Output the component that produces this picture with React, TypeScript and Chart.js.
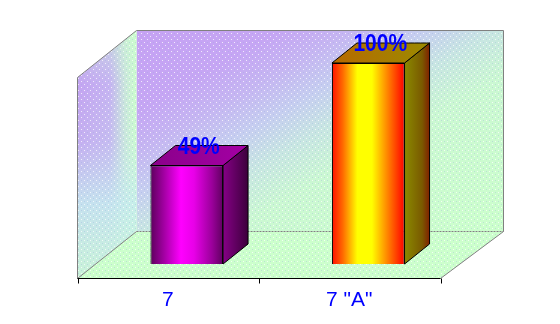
import React, { useEffect, useRef } from 'react';
import { Chart, registerables } from 'chart.js';

Chart.register(...registerables);

// ---- data ----
const categories: string[] = ['7', '7 "A"'];
const values: number[] = [49, 100];
const valueLabels: string[] = ['49%', '100%'];
const yMin = 0;
const yMax = 100;

// ---- geometry / style ----
const BAR_PCT = 0.4;
const BAR_SHIFT = { x: 19, y: -14 }; // bar plane relative to front plane
const BAR_DEPTH = { x: 25, y: -20 };
const WALL = { xl: 59, xr: 63, y: -47 };
const FONT = 'Liberation Sans, Arial, sans-serif';

type Stops = [number, string][];
const frontStops: Stops[] = [
  [[0, '#5c005c'], [0.18, '#a000a0'], [0.42, '#ff00ff'], [0.6, '#e800e8'], [0.85, '#9a009a'], [1, '#600060']],
  [[0, '#ff1000'], [0.15, '#ff6a00'], [0.35, '#ffff00'], [0.55, '#ffff00'], [0.8, '#ff7000'], [1, '#ff0000']],
];
const sideStops: Stops[] = [
  [[0, '#860086'], [1, '#3c003c']],
  [[0, '#8a8a00'], [0.7, '#7a5a00'], [1, '#802000']],
];
const topStops: Stops[] = [
  [[0, '#8a008a'], [1, '#a400a4']],
  [[0, '#b86a00'], [1, '#9a8a00']],
];

function grad(ctx: CanvasRenderingContext2D, x0: number, y0: number, x1: number, y1: number, stops: Stops) {
  const g = ctx.createLinearGradient(x0, y0, x1, y1);
  stops.forEach(([o, c]) => g.addColorStop(o, c));
  return g;
}

function poly(ctx: CanvasRenderingContext2D, pts: number[][]) {
  ctx.beginPath();
  ctx.moveTo(pts[0][0], pts[0][1]);
  for (let i = 1; i < pts.length; i++) ctx.lineTo(pts[i][0], pts[i][1]);
  ctx.closePath();
}

function line(ctx: CanvasRenderingContext2D, x0: number, y0: number, x1: number, y1: number) {
  ctx.beginPath();
  ctx.moveTo(x0, y0);
  ctx.lineTo(x1, y1);
  ctx.stroke();
}

let dotPattern: CanvasPattern | null = null;
function dots(ctx: CanvasRenderingContext2D) {
  if (dotPattern) return dotPattern;
  const c = document.createElement('canvas');
  c.width = 6;
  c.height = 6;
  const p = c.getContext('2d')!;
  p.fillStyle = 'rgba(255,255,255,0.75)';
  p.fillRect(0, 0, 1, 1);
  p.fillRect(3, 3, 1, 1);
  p.fillStyle = 'rgba(150,170,220,0.35)';
  p.fillRect(3, 0, 1, 1);
  p.fillRect(0, 3, 1, 1);
  dotPattern = ctx.createPattern(c, 'repeat');
  return dotPattern;
}

const scenePlugin = {
  id: 'scene3d',
  beforeDatasetsDraw(chart: any) {
    const ctx: CanvasRenderingContext2D = chart.ctx;
    const a = chart.chartArea;
    const fL = Math.round(a.left - BAR_SHIFT.x) + 0.5;
    const fR = Math.round(a.right - BAR_SHIFT.x) + 0.5;
    const fT = Math.round(a.top - BAR_SHIFT.y) + 0.5;
    const fB = Math.round(a.bottom - BAR_SHIFT.y) + 0.5;
    const bL = fL + WALL.xl, bR = fR + WALL.xr, bT = fT + WALL.y, bB = fB + WALL.y;
    ctx.save();
    // back wall: purple in the upper-left, fading to pale green lower-right
    const k = 1.47;
    ctx.fillStyle = grad(ctx, bL, bT, bL + 119 * k, bT + 210 * k, [
      [0, '#c6a2f4'],
      [0.2, '#c6a6f4'],
      [0.3, '#c6b6f2'],
      [0.4, '#c6cef0'],
      [0.5, '#c8e6e2'],
      [0.62, '#cbf8d2'],
      [1, '#ccffcc'],
    ]);
    ctx.fillRect(bL, bT, bR - bL, bB - bT);
    ctx.fillStyle = dots(ctx);
    ctx.fillRect(bL, bT, bR - bL, bB - bT);
    // left wall
    poly(ctx, [[fL, fT], [bL, bT], [bL, bB], [fL, fB]]);
    ctx.fillStyle = grad(ctx, fL, 0, bL, 0, [[0, '#c4a4f2'], [0.55, '#c6b4f2'], [0.8, '#cae6dc'], [1, '#ccffcc']]);
    ctx.fill();
    ctx.fillStyle = grad(ctx, 0, bT, 0, fB, [
      [0, 'rgba(204,255,204,0.5)'],
      [0.22, 'rgba(204,240,220,0)'],
      [0.45, 'rgba(200,236,236,0.15)'],
      [0.7, 'rgba(198,236,238,0.85)'],
      [1, 'rgba(202,248,214,0.95)'],
    ]);
    ctx.fill();
    ctx.fillStyle = dots(ctx);
    ctx.fill();
    // floor
    poly(ctx, [[fL, fB], [fR, fB], [bR, bB], [bL, bB]]);
    ctx.fillStyle = '#ccffcc';
    ctx.fill();
    ctx.fillStyle = dots(ctx);
    ctx.fill();
    // edges
    ctx.strokeStyle = '#808080';
    ctx.lineWidth = 1;
    line(ctx, bL, bT, bR, bT);
    line(ctx, bR, bT, bR, bB);
    line(ctx, fL, fT, bL, bT);
    line(ctx, fL, fT, fL, fB);
    line(ctx, fR, fB, bR, bB);
    line(ctx, fL, fB, bL, bB);
    ctx.setLineDash([2, 1]);
    line(ctx, bL, bB, bR, bB);
    ctx.setLineDash([]);
    // front axis line with ticks at category boundaries
    ctx.strokeStyle = '#000000';
    line(ctx, fL, fB, fR, fB);
    const n = categories.length;
    for (let i = 0; i <= n; i++) {
      const x = Math.round(fL + ((fR - fL) * i) / n) + 0.5;
      line(ctx, x, fB, x, fB + 5);
    }
    ctx.restore();
  },
  afterDatasetsDraw(chart: any) {
    const ctx: CanvasRenderingContext2D = chart.ctx;
    const meta = chart.getDatasetMeta(0);
    ctx.save();
    ctx.strokeStyle = '#000000';
    ctx.lineWidth = 1;
    meta.data.forEach((el: any, i: number) => {
      const { x, y, width, base } = el.getProps(['x', 'y', 'width', 'base'], true);
      const l = x - width / 2;
      const r = x + width / 2;
      const dx = BAR_DEPTH.x, dy = BAR_DEPTH.y;
      // side
      poly(ctx, [[r, y], [r + dx, y + dy], [r + dx, base + dy], [r, base]]);
      ctx.fillStyle = grad(ctx, r, 0, r + dx, 0, sideStops[i]);
      ctx.fill();
      ctx.stroke();
      // top
      poly(ctx, [[l, y], [l + dx, y + dy], [r + dx, y + dy], [r, y]]);
      ctx.fillStyle = grad(ctx, l, 0, r + dx, 0, topStops[i]);
      ctx.fill();
      ctx.stroke();
    });
    // value labels
    ctx.fillStyle = '#0000ff';
    ctx.font = `bold 21px ${FONT}`;
    ctx.textAlign = 'center';
    ctx.textBaseline = 'middle';
    meta.data.forEach((el: any, i: number) => {
      const { x, y } = el.getProps(['x', 'y'], true);
      ctx.save();
      ctx.translate(x + 12, y - 18.5);
      ctx.scale(1, 1.13);
      ctx.fillText(valueLabels[i], 0, 0);
      ctx.restore();
    });
    ctx.restore();
  },
};

export default function App() {
  const ref = useRef<HTMLCanvasElement | null>(null);
  useEffect(() => {
    if (!ref.current) return;
    const chart = new Chart(ref.current, {
      type: 'bar',
      data: {
        labels: categories,
        datasets: [
          {
            data: values,
            backgroundColor: (c: any) => {
              const ch = c.chart;
              const xs = ch.scales && ch.scales.x;
              const idx = c.dataIndex;
              if (!xs || idx == null || !frontStops[idx]) return '#888888';
              const cx = xs.getPixelForValue(idx);
              const w = (xs.width / categories.length) * BAR_PCT;
              if (!isFinite(cx) || !isFinite(w) || w <= 0) return '#888888';
              return grad(ch.ctx, cx - w / 2, 0, cx + w / 2, 0, frontStops[idx]);
            },
            borderColor: '#000000',
            borderWidth: 1,
            barPercentage: BAR_PCT,
            categoryPercentage: 1,
          },
        ],
      },
      options: {
        responsive: false,
        animation: false,
        events: [],
        layout: { padding: { left: 96, right: 101, top: 63, bottom: 0 } },
        plugins: { legend: { display: false }, tooltip: { enabled: false } },
        scales: {
          x: {
            offset: true,
            grid: { display: false, drawTicks: false },
            border: { display: false },
            ticks: {
              color: '#0000ff',
              font: { family: FONT, size: 21 },
              padding: 24,
              labelOffset: -BAR_SHIFT.x,
              maxRotation: 0,
              autoSkip: false,
            },
            afterFit: (s: any) => {
              s.height = 60;
            },
          },
          y: { display: false, min: yMin, max: yMax },
        },
      },
      plugins: [scenePlugin],
    });
    return () => chart.destroy();
  }, []);
  return (
    <div style={{ position: 'absolute', left: 0, top: 0, width: 560, height: 324, background: '#ffffff' }}>
      <canvas ref={ref} width={560} height={324} />
    </div>
  );
}
